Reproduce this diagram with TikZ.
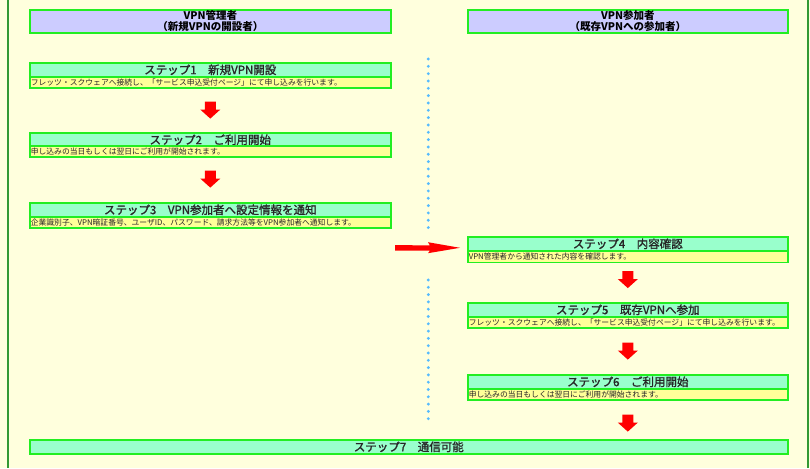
\documentclass[tikz,border=0pt]{standalone}
\usepackage{fontspec}
\setmainfont{Noto Sans CJK JP}
\newfontfamily\jpttl[FakeBold=1.3]{Noto Sans CJK JP}
\usetikzlibrary{calc}
\definecolor{bgc}{HTML}{FFFFDD}
\definecolor{hdrc}{HTML}{CCCCFF}
\definecolor{ttlc}{HTML}{99FFCC}
\definecolor{dscc}{HTML}{FFFF99}
\definecolor{bdrc}{HTML}{22EE22}
\definecolor{framec}{HTML}{339933}
\definecolor{dotc}{HTML}{55BBFF}
\definecolor{arrc}{HTML}{FF0000}
\tikzset{
  hdrbox/.style={draw=bdrc, line width=1.6pt, fill=hdrc, anchor=north west, inner sep=0pt,
    minimum height=23pt, align=center, font=\fontsize{10.5}{11}\selectfont\bfseries},
  ttlbox/.style={draw=bdrc, line width=1.6pt, fill=ttlc, anchor=north west, inner sep=0pt,
    minimum height=14pt, font=\fontsize{11.5}{12}\selectfont\jpttl, text=black!85},
  dscbox/.style={draw=bdrc, line width=1.6pt, fill=dscc, anchor=north west, inner xsep=1pt, inner ysep=0pt,
    minimum height=11pt, align=left, font=\fontsize{7.8}{8}\selectfont, text=black!85},
  downarr/.pic={\fill[arrc] (-5.5,-17) -- (5.5,-17) -- (5.5,-9) -- (10,-9) -- (0,0) -- (-10,-9) -- (-5.5,-9) -- cycle;}
}
\begin{document}
\begin{tikzpicture}[x=1pt,y=-1pt]
\fill[bgc] (0,0) rectangle (810,468);
\useasboundingbox (0,0) rectangle (810,468);
\draw[framec, line width=1.5pt] (8,0) -- (8,468);
\draw[framec, line width=1.5pt] (808,0) -- (808,468);
% dotted separator
\foreach \i in {0,...,23} \fill[dotc] (428.3,59+\i*7.33) circle (1.6);
\foreach \i in {0,...,19} \fill[dotc] (428.3,280+\i*7.3) circle (1.6);
% headers
\node[hdrbox, minimum width=361pt] (h1) at (29,9) {VPN管理者\\（新規VPNの開設者）};
\node[hdrbox, minimum width=320pt] (h2) at (467,9) {VPN参加者\\（既存VPNへの参加者）};
% left column
\node[ttlbox, minimum width=361pt] (s1t) at (29,62) {ステップ1　新規VPN開設};
\node[dscbox, text width=359pt] (s1d) at (29,76) {フレッツ・スクウェアへ接続し、「サービス申込受付ページ」にて申し込みを行います。};
\node[ttlbox, minimum width=361pt] (s2t) at (29,132) {ステップ2　ご利用開始};
\node[dscbox, text width=359pt] (s2d) at (29,145) {申し込みの当日もしくは翌日にご利用が開始されます。};
\node[ttlbox, minimum width=361pt] (s3t) at (29,202) {ステップ3　VPN参加者へ設定情報を通知};
\node[dscbox, text width=359pt] (s3d) at (29,216) {企業識別子、VPN暗証番号、ユーザID、パスワード、請求方法等をVPN参加者へ通知します。};
% right column
\node[ttlbox, minimum width=320pt] (s4t) at (467,236) {ステップ4　内容確認};
\node[dscbox, text width=318pt] (s4d) at (467,250.5) {VPN管理者から通知された内容を確認します。};
\node[ttlbox, minimum width=320pt] (s5t) at (467,302) {ステップ5　既存VPNへ参加};
\node[dscbox, text width=318pt] (s5d) at (467,316) {フレッツ・スクウェアへ接続し、「サービス申込受付ページ」にて申し込みを行います。};
\node[ttlbox, minimum width=320pt] (s6t) at (467,374) {ステップ6　ご利用開始};
\node[dscbox, text width=318pt] (s6d) at (467,388) {申し込みの当日もしくは翌日にご利用が開始されます。};
% final
\node[ttlbox, minimum width=758pt] (s7t) at (29,439) {ステップ7　通信可能};
% arrows
\pic at ([yshift=-30pt]s1d.south) {downarr};
\pic at ([yshift=-30pt]s2d.south) {downarr};
\pic at ([yshift=-25pt]s4d.south) {downarr};
\pic at ([yshift=-31pt]s5d.south) {downarr};
\pic at ([yshift=-31pt]s6d.south) {downarr};
\coordinate (ha) at (395,247.7);
\fill[arrc] ($(ha)+(0,-2.7)$) -- ($(ha)+(35,-2.2)$) -- ($(ha)+(33,-5.5)$) -- ([xshift=-7pt,yshift=-4pt]s4t.west) -- ($(ha)+(33,5.5)$) -- ($(ha)+(35,2.8)$) -- ($(ha)+(0,3)$) -- cycle;
\end{tikzpicture}
\end{document}
